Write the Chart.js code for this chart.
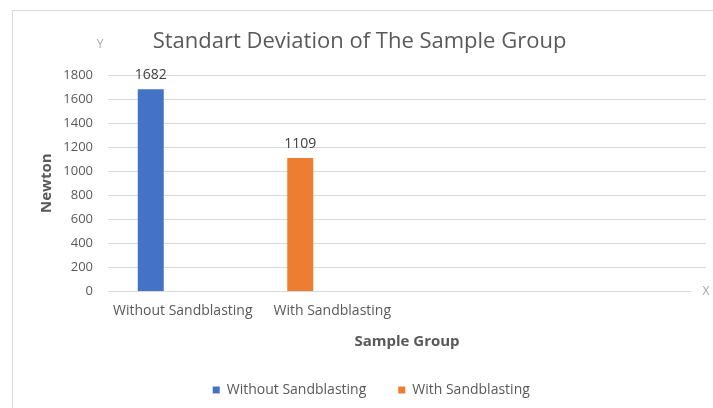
<!DOCTYPE html>
<html>
<head>
<meta charset="utf-8">
<script src="https://cdn.jsdelivr.net/npm/chart.js@4.4.1/dist/chart.umd.min.js"></script>
<style>
  html, body { margin: 0; padding: 0; background: #fff; }
  #wrap { position: relative; width: 713px; height: 408px; overflow: hidden; }
  #frame { position: absolute; left: 12px; top: 10px; width: 720px; height: 420px; border: 1px solid #d9d9d9; box-sizing: border-box; pointer-events: none; }
  canvas { position: absolute; left: 0; top: 0; }
</style>
</head>
<body>
<div id="wrap">
  <canvas id="chart" width="713" height="408"></canvas>
  <div id="frame"></div>
</div>
<script>
const categories = ["Without Sandblasting", "With Sandblasting", "", ""];
const withoutSandblasting = [1682, null, null, null];
const withSandblasting = [null, 1109, null, null];
const spacerValues = [null, null, null, null];
const yTickValues = [0, 200, 400, 600, 800, 1000, 1200, 1400, 1600, 1800];

const textColor = "#595959";
const fontFamily = "'Open Sans', 'Noto Sans', sans-serif";

// value labels above the bars
const barValueLabels = {
  id: "barValueLabels",
  afterDatasetsDraw(chart) {
    const ctx = chart.ctx;
    ctx.save();
    ctx.font = `14px ${fontFamily}`;
    ctx.fillStyle = "#404040";
    ctx.textAlign = "center";
    ctx.textBaseline = "bottom";
    chart.data.datasets.forEach((ds, i) => {
      chart.getDatasetMeta(i).data.forEach((bar, j) => {
        const v = ds.data[j];
        if (v == null) return;
        ctx.fillText(String(v), bar.x, bar.y - 7);
      });
    });
    ctx.restore();
  },
};

// the small "Y" and "X" axis letters
const axisLetters = {
  id: "axisLetters",
  afterDraw(chart) {
    const { ctx, chartArea } = chart;
    ctx.save();
    ctx.font = `12px ${fontFamily}`;
    ctx.fillStyle = "#a6a6a6";
    ctx.textAlign = "center";
    ctx.textBaseline = "middle";
    ctx.fillText("Y", chartArea.left - 8, 45);
    const xx = chartArea.right;
    const xy = chartArea.bottom;
    ctx.fillStyle = "#ffffff";
    ctx.fillRect(xx - 15, xy - 6, 18, 12);
    ctx.fillStyle = "#a6a6a6";
    ctx.fillText("X", xx, xy);
    ctx.restore();
  },
};

new Chart(document.getElementById("chart"), {
  type: "bar",
  data: {
    labels: categories,
    datasets: [
      {
        label: "Without Sandblasting",
        data: withoutSandblasting,
        backgroundColor: "#4472C4",
        stack: "a",
      },
      {
        label: "With Sandblasting",
        data: withSandblasting,
        backgroundColor: "#ED7D31",
        stack: "a",
      },
      {
        // empty second slot so the bars sit left of each category centre;
        // its blank legend entry also nudges the legend to the left
        label: "       ",
        data: spacerValues,
        backgroundColor: "rgba(0,0,0,0)",
        borderColor: "rgba(0,0,0,0)",
        borderWidth: 0,
        stack: "b",
      },
    ],
  },
  options: {
    responsive: false,
    animation: false,
    datasets: {
      bar: {
        categoryPercentage: 0.856,
        barPercentage: 0.406,
      },
    },
    layout: {
      padding: { left: 13, right: 7, top: 0, bottom: 1 },
    },
    plugins: {
      tooltip: { enabled: false },
      title: {
        display: true,
        text: "Standart Deviation of The Sample Group",
        color: textColor,
        font: { family: fontFamily, size: 22, weight: "normal" },
        padding: { top: 28.8, bottom: 19.8 },
      },
      legend: {
        position: "bottom",
        fullSize: false,
        onClick: null,
        labels: {
          color: textColor,
          font: { family: fontFamily, size: 14 },
          boxWidth: 7,
          boxHeight: 7,
          padding: 32,
        },
      },
    },
    scales: {
      x: {
        grid: { display: false, drawTicks: false },
        border: { display: false },
        ticks: {
          color: textColor,
          font: { family: fontFamily, size: 14 },
          padding: 11.6,
          maxRotation: 0,
          autoSkip: false,
        },
        title: {
          display: true,
          text: "Sample Group",
          color: textColor,
          font: { family: fontFamily, size: 15, weight: "bold" },
          padding: { top: 1.6, bottom: 0 },
        },
      },
      y: {
        min: 0,
        max: 1800,
        afterBuildTicks(scale) {
          scale.ticks = yTickValues.map((value) => ({ value }));
        },
        afterFit(scale) {
          scale.width = 95;
        },
        grid: { color: "#d9d9d9", drawTicks: false },
        border: { display: false },
        ticks: {
          color: textColor,
          font: { family: fontFamily, size: 13 },
          padding: 15,
          callback: (v) => String(v),
        },
        title: {
          display: true,
          text: "Newton",
          color: textColor,
          font: { family: fontFamily, size: 15, weight: "bold" },
          padding: { top: 25, bottom: 0 },
        },
      },
    },
  },
  plugins: [barValueLabels, axisLetters],
});
</script>
</body>
</html>
